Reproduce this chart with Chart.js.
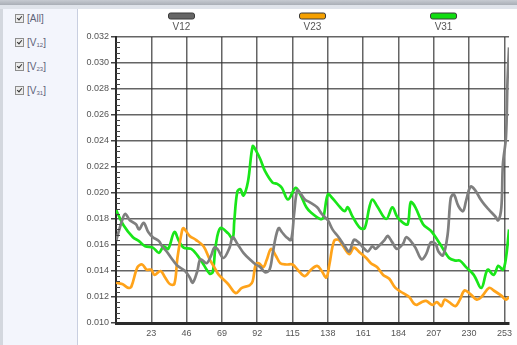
<!DOCTYPE html>
<html>
<head>
<meta charset="utf-8">
<script src="https://cdn.jsdelivr.net/npm/chart.js@4.4.1/dist/chart.umd.min.js"></script>
<style>
  body { margin: 0; width: 517px; height: 345px; background: #fff; overflow: hidden; position: relative; font-family: "Liberation Sans", Arial, sans-serif; }
  .topbar { position: absolute; left: 0; top: 0; width: 517px; height: 5px; background: linear-gradient(#c6cad1, #a9aeb6); }
  .topbar2 { position: absolute; left: 0; top: 5px; width: 517px; height: 4px; background: #dfe3ea; }
  .panel { position: absolute; left: 0; top: 9px; width: 78px; height: 336px; background: #f3f5fc; border-right: 1px solid #c9cfe0; border-left: 3px solid #d3d7de; box-sizing: border-box; }
  .item { position: absolute; left: 12px; height: 12px; font-size: 10px; color: #5e6378; line-height: 12px; white-space: nowrap; }
  .box { display: inline-block; width: 7px; height: 7px; border: 1px solid #8d8d8d; background: #ececec; vertical-align: -1px; margin-right: 3px; position: relative; }
  .box::after { content: ""; position: absolute; left: 2px; top: 0px; width: 2px; height: 4px; border: solid #333; border-width: 0 1.5px 1.5px 0; transform: rotate(40deg); }
  sub { font-size: 6px; vertical-align: -1px; }
  #wrap { position: absolute; left: 80px; top: 8px; width: 437px; height: 337px; }
</style>
</head>
<body>
<div class="topbar"></div>
<div class="topbar2"></div>
<div class="panel">
  <div class="item" style="top:4px"><span class="box"></span>[All]</div>
  <div class="item" style="top:28px"><span class="box"></span>[V<sub>12</sub>]</div>
  <div class="item" style="top:52px"><span class="box"></span>[V<sub>23</sub>]</div>
  <div class="item" style="top:76px"><span class="box"></span>[V<sub>31</sub>]</div>
</div>
<div id="wrap"><canvas id="chart" width="437" height="337"></canvas></div>
<script>
const seriesNames = ['V12', 'V23', 'V31'];
const seriesColors = ['#7f7f7f', '#ffa31a', '#19e619'];
const swatchColors = ['#666666', '#f5a000', '#11dd11'];

const xTicks = [0, 23, 46, 69, 92, 115, 138, 161, 184, 207, 230, 253];

// V12 (gray)
const v12X = [0, 4, 6, 9, 13, 15, 18, 21, 24, 28, 30, 33, 36, 40, 45, 48, 50, 53, 55, 59, 62, 64, 66, 70, 74, 76, 79, 83, 88, 91, 94, 97, 100, 102, 104, 106, 108, 111, 114, 116, 118, 120, 123, 126, 131, 134, 138, 141, 145, 149, 152, 155, 158, 161, 164, 167, 169, 171, 175, 177, 180, 183, 187, 189, 192, 195, 199, 202, 205, 208, 210, 213, 216, 218, 220, 223, 226, 228, 231, 234, 237, 240, 243, 247, 249, 251, 252, 254, 255, 256];
const v12Y = [0.0163, 0.0179, 0.0184, 0.0179, 0.0176, 0.0172, 0.0177, 0.0170, 0.0166, 0.0163, 0.0159, 0.0155, 0.0150, 0.0144, 0.0140, 0.0135, 0.0131, 0.0140, 0.0149, 0.0146, 0.0152, 0.0158, 0.0157, 0.0150, 0.0158, 0.0166, 0.0161, 0.0154, 0.0148, 0.0145, 0.0143, 0.0139, 0.0141, 0.0153, 0.0166, 0.0173, 0.0170, 0.0166, 0.0164, 0.0184, 0.0202, 0.0200, 0.0195, 0.0193, 0.0189, 0.0184, 0.0179, 0.0172, 0.0166, 0.0159, 0.0155, 0.0164, 0.0162, 0.0158, 0.0155, 0.0159, 0.0157, 0.0159, 0.0164, 0.0167, 0.0162, 0.0157, 0.0161, 0.0166, 0.0163, 0.0158, 0.0149, 0.0153, 0.0162, 0.0161, 0.0155, 0.0152, 0.0168, 0.0196, 0.0199, 0.0190, 0.0186, 0.0194, 0.0205, 0.0202, 0.0196, 0.0191, 0.0187, 0.0182, 0.0179, 0.0189, 0.0222, 0.0243, 0.0286, 0.0312];

// V23 (orange)
const v23X = [0, 4, 8, 10, 14, 17, 20, 23, 25, 29, 32, 35, 38, 40, 43, 44, 48, 52, 57, 61, 64, 67, 73, 78, 82, 87, 89, 91, 93, 96, 98, 101, 104, 107, 111, 115, 119, 123, 127, 131, 134, 137, 139, 142, 145, 148, 152, 155, 159, 163, 166, 170, 174, 178, 182, 187, 191, 194, 196, 199, 202, 206, 209, 212, 214, 217, 221, 224, 227, 231, 235, 238, 243, 246, 251, 254, 256];
const v23Y = [0.0131, 0.0130, 0.0127, 0.0128, 0.0143, 0.0145, 0.0141, 0.0141, 0.0137, 0.0140, 0.0135, 0.0130, 0.0130, 0.0150, 0.0171, 0.0173, 0.0167, 0.0164, 0.0159, 0.0149, 0.0143, 0.0137, 0.0130, 0.0123, 0.0127, 0.0129, 0.0132, 0.0145, 0.0146, 0.0143, 0.0148, 0.0157, 0.0152, 0.0146, 0.0145, 0.0145, 0.0140, 0.0136, 0.0141, 0.0144, 0.0140, 0.0135, 0.0145, 0.0163, 0.0164, 0.0159, 0.0153, 0.0158, 0.0154, 0.0150, 0.0146, 0.0143, 0.0137, 0.0134, 0.0127, 0.0123, 0.0120, 0.0115, 0.0114, 0.0116, 0.0117, 0.0114, 0.0116, 0.0113, 0.0118, 0.0116, 0.0113, 0.0118, 0.0125, 0.0122, 0.0118, 0.0120, 0.0127, 0.0125, 0.0121, 0.0118, 0.0120];

// V31 (green)
const v31X = [0, 5, 11, 15, 19, 24, 28, 31, 34, 38, 41, 44, 49, 53, 57, 61, 63, 65, 68, 73, 76, 77, 79, 81, 83, 86, 89, 91, 94, 97, 102, 105, 108, 112, 117, 120, 124, 127, 133, 135, 138, 141, 146, 149, 151, 154, 159, 162, 165, 167, 170, 176, 180, 183, 187, 190, 192, 195, 200, 205, 211, 217, 221, 224, 228, 233, 238, 242, 246, 249, 252, 254, 256];
const v31Y = [0.0187, 0.0175, 0.0166, 0.0163, 0.0159, 0.0158, 0.0154, 0.0159, 0.0157, 0.0170, 0.0163, 0.0158, 0.0157, 0.0152, 0.0145, 0.0138, 0.0139, 0.0160, 0.0173, 0.0169, 0.0165, 0.0178, 0.0201, 0.0203, 0.0198, 0.0209, 0.0236, 0.0233, 0.0226, 0.0217, 0.0208, 0.0207, 0.0204, 0.0195, 0.0204, 0.0199, 0.0189, 0.0185, 0.0180, 0.0181, 0.0199, 0.0196, 0.0189, 0.0186, 0.0189, 0.0182, 0.0173, 0.0173, 0.0189, 0.0195, 0.0190, 0.0180, 0.0189, 0.0182, 0.0177, 0.0176, 0.0193, 0.0189, 0.0176, 0.0171, 0.0161, 0.0150, 0.0148, 0.0148, 0.0143, 0.0137, 0.0127, 0.0141, 0.0137, 0.0144, 0.0141, 0.0150, 0.0172];

const xs = [v12X, v23X, v31X];
const ys = [v12Y, v23Y, v31Y];

// legend with swatch above label, one third of plot width per item
const topLegend = {
  id: 'topLegend',
  afterDraw(chart) {
    const ctx = chart.ctx;
    const a = chart.chartArea;
    const w = (a.right - a.left) / 3;
    ctx.save();
    seriesNames.forEach((name, i) => {
      const cx = a.left + (i + 0.5) * w;
      ctx.beginPath();
      ctx.roundRect(cx - 13, 5, 26, 6, 2);
      ctx.fillStyle = swatchColors[i];
      ctx.fill();
      ctx.lineWidth = 1;
      ctx.strokeStyle = '#3a3a3a';
      ctx.stroke();
      ctx.fillStyle = '#555';
      ctx.font = '10px "Liberation Sans", Arial';
      ctx.textAlign = 'center';
      ctx.textBaseline = 'middle';
      ctx.fillText(name, cx, 19);
    });
    ctx.restore();
  }
};

// minor ticks on the y axis
const minorTicks = {
  id: 'minorTicks',
  afterDraw(chart) {
    const ctx = chart.ctx;
    const y = chart.scales.y;
    const x0 = chart.chartArea.left;
    ctx.save();
    ctx.strokeStyle = '#444';
    ctx.lineWidth = 1;
    for (let v = 0.010; v < 0.032; v += 0.002) {
      for (let k = 1; k < 5; k++) {
        const py = Math.round(y.getPixelForValue(v + k * 0.0004)) + 0.5;
        ctx.beginPath();
        ctx.moveTo(x0, py);
        ctx.lineTo(x0 + 4, py);
        ctx.stroke();
      }
    }
    ctx.restore();
  }
};

const datasets = seriesNames.map((name, i) => ({
  label: name,
  data: xs[i].map((x, j) => ({ x: x, y: ys[i][j] })),
  borderColor: seriesColors[i],
  borderWidth: 2.7,
  pointRadius: 0,
  tension: 0.35,
  fill: false
}));

new Chart(document.getElementById('chart'), {
  type: 'line',
  data: { datasets: datasets },
  options: {
    responsive: false,
    animation: false,
    layout: { padding: { top: 29, right: 5, left: 0, bottom: 0 } },
    plugins: { legend: { display: false }, tooltip: { enabled: false } },
    scales: {
      x: {
        type: 'linear',
        min: 0,
        max: 256,
        afterBuildTicks: s => { s.ticks = xTicks.map(v => ({ value: v })); },
        afterFit: s => { s.height = 22; },
        ticks: {
          callback: v => (v === 0 ? '' : v),
          font: { size: 9, family: '"Liberation Sans", Arial' },
          color: '#555',
          maxRotation: 0,
          autoSkip: false,
          padding: 5
        },
        grid: { color: 'rgba(50,50,50,0.75)', lineWidth: 1.5, drawTicks: false },
        border: { color: '#2a2a2a', width: 3 }
      },
      y: {
        min: 0.010,
        max: 0.032,
        afterFit: s => { s.width = 36; },
        ticks: {
          stepSize: 0.002,
          callback: v => v.toFixed(3),
          font: { size: 9, family: '"Liberation Sans", Arial' },
          color: '#555',
          padding: 2
        },
        grid: { color: 'rgba(50,50,50,0.75)', lineWidth: 1.5, tickLength: 5, tickColor: '#444' },
        border: { color: '#2a2a2a', width: 2 }
      }
    }
  },
  plugins: [topLegend, minorTicks]
});
</script>
</body>
</html>
